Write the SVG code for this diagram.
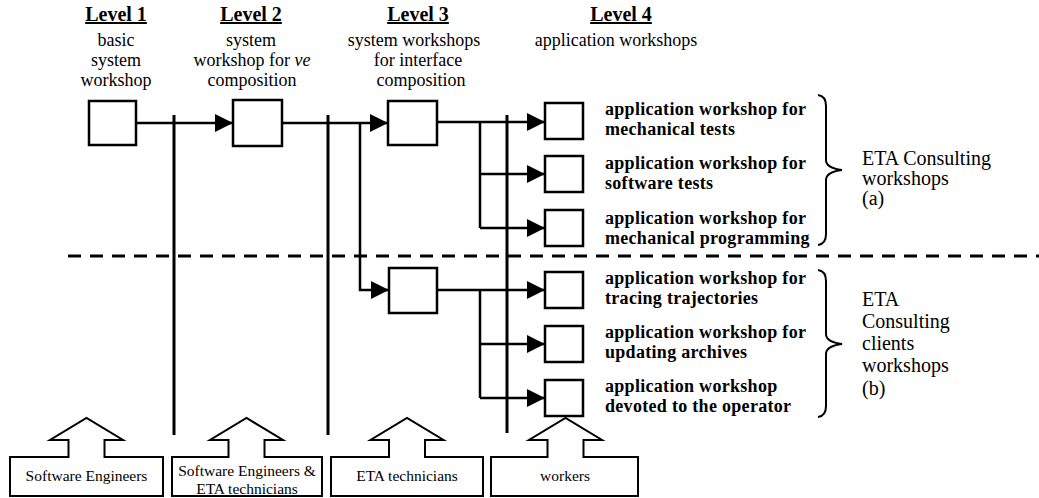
<svg xmlns="http://www.w3.org/2000/svg" width="1039" height="498" viewBox="0 0 1039 498">
<style>
  .t { font-family: "Liberation Serif", "Times New Roman", serif; fill: #000; }
  .hd { font-size: 20px; font-weight: bold; text-decoration: underline; text-anchor: middle; }
  .h { font-size: 18px; text-anchor: middle; }
  .b { font-size: 18px; font-weight: bold; letter-spacing: 0.3px; }
  .r { font-size: 20px; }
  .s { font-size: 15.5px; text-anchor: middle; }
  .box { fill: #fff; stroke: #000; stroke-width: 2.5; }
  .ln { fill: none; stroke: #000; stroke-width: 2.5; }
  .sep { fill: none; stroke: #000; stroke-width: 3; }
  .brace { fill: none; stroke: #000; stroke-width: 2; }
  .call { fill: #fff; stroke: #000; stroke-width: 2; stroke-linejoin: miter; }
</style>
<defs>
  <marker id="ah" viewBox="0 0 18 18" refX="18" refY="9" markerWidth="18" markerHeight="18" markerUnits="userSpaceOnUse" orient="auto">
    <path d="M0,0 L18,9 L0,18 Z" fill="#000"/>
  </marker>
</defs>
<rect width="1039" height="498" fill="#fff"/>

<!-- headers -->
<g id="headers" class="t">
  <text class="t hd" x="116" y="21">Level 1</text>
  <text class="t h" x="116" y="46">basic</text>
  <text class="t h" x="116" y="66">system</text>
  <text class="t h" x="116" y="86">workshop</text>

  <text class="t hd" x="251" y="21">Level 2</text>
  <text class="t h" x="251" y="46">system</text>
  <text class="t h" x="252" y="66">workshop for <tspan font-style="italic">ve</tspan></text>
  <text class="t h" x="252" y="86">composition</text>

  <text class="t hd" x="418" y="21">Level 3</text>
  <text class="t h" x="414" y="46">system workshops</text>
  <text class="t h" x="418" y="66">for interface</text>
  <text class="t h" x="421" y="86">composition</text>

  <text class="t hd" x="621" y="21">Level 4</text>
  <text class="t h" x="616" y="46">application workshops</text>
</g>

<!-- separators and dashed divider -->
<g id="separators">
  <path class="sep" d="M174,115 V435 M328,115 V435 M507,115 V433"/>
  <path d="M68,256 H1039" stroke="#000" stroke-width="3" stroke-dasharray="13 9" fill="none"/>
</g>

<!-- connectors -->
<g id="connectors">
  <path class="ln" d="M136,123 H233" marker-end="url(#ah)"/>
  <path class="ln" d="M282,123 H388" marker-end="url(#ah)"/>
  <path class="ln" d="M360,123 V290 H389" marker-end="url(#ah)"/>
  <path class="ln" d="M437,122 H545" marker-end="url(#ah)"/>
  <path class="ln" d="M480,122 V228"/>
  <path class="ln" d="M480,174 H545" marker-end="url(#ah)"/>
  <path class="ln" d="M480,228 H545" marker-end="url(#ah)"/>
  <path class="ln" d="M437,290 H545" marker-end="url(#ah)"/>
  <path class="ln" d="M480,290 V398"/>
  <path class="ln" d="M480,344 H545" marker-end="url(#ah)"/>
  <path class="ln" d="M480,398 H545" marker-end="url(#ah)"/>
</g>

<!-- system workshops -->
<g id="level1-box"><rect class="box" x="89" y="101" width="47" height="44"/></g>
<g id="level2-box"><rect class="box" x="233" y="100" width="49" height="46"/></g>
<g id="level3-box-a"><rect class="box" x="388" y="101" width="49" height="44"/></g>
<g id="level3-box-b"><rect class="box" x="389" y="268" width="48" height="45"/></g>

<!-- application workshops -->
<g id="app-mech-tests">
  <rect class="box" x="545" y="103" width="38" height="36"/>
  <text class="t b" x="605" y="115">application workshop for</text>
  <text class="t b" x="605" y="135">mechanical tests</text>
</g>
<g id="app-soft-tests">
  <rect class="box" x="545" y="156" width="38" height="36"/>
  <text class="t b" x="605" y="169">application workshop for</text>
  <text class="t b" x="605" y="189">software tests</text>
</g>
<g id="app-mech-prog">
  <rect class="box" x="545" y="210" width="38" height="36"/>
  <text class="t b" x="605" y="224">application workshop for</text>
  <text class="t b" x="605" y="244">mechanical programming</text>
</g>
<g id="app-tracing">
  <rect class="box" x="545" y="272" width="38" height="36"/>
  <text class="t b" x="605" y="284">application workshop for</text>
  <text class="t b" x="605" y="304">tracing trajectories</text>
</g>
<g id="app-archives">
  <rect class="box" x="545" y="326" width="38" height="36"/>
  <text class="t b" x="605" y="338">application workshop for</text>
  <text class="t b" x="605" y="358">updating archives</text>
</g>
<g id="app-operator">
  <rect class="box" x="545" y="380" width="38" height="36"/>
  <text class="t b" x="605" y="392">application workshop</text>
  <text class="t b" x="605" y="412">devoted to the operator</text>
</g>

<!-- braces and group labels -->
<g id="group-a">
  <path class="brace" d="M818,95 Q826,96 826,106 V160 Q826,168 842,170 Q826,172 826,180 V234 Q826,244 818,245"/>
  <text class="t r" x="862" y="165">ETA Consulting</text>
  <text class="t r" x="862" y="185">workshops</text>
  <text class="t r" x="862" y="205">(a)</text>
</g>
<g id="group-b">
  <path class="brace" d="M818,270 Q826,271 826,281 V334 Q826,342 842,344 Q826,346 826,354 V406 Q826,416 818,417"/>
  <text class="t r" x="862" y="306">ETA</text>
  <text class="t r" x="862" y="328">Consulting</text>
  <text class="t r" x="862" y="350">clients</text>
  <text class="t r" x="862" y="372">workshops</text>
  <text class="t r" x="862" y="395">(b)</text>
</g>

<!-- actors (up-arrow callouts) -->
<g id="actor-software-engineers">
  <path class="call" d="M10,457 H68.5 V440 H50 L86.5,418 L123,440 H104.5 V457 H163 V496 H10 Z"/>
  <text class="t s" x="86.5" y="481">Software Engineers</text>
</g>
<g id="actor-se-eta">
  <path class="call" d="M172,457 H228.5 V440 H210 L246.5,418 L283,440 H264.5 V457 H322 V496 H172 Z"/>
  <text class="t s" x="247" y="476">Software Engineers &amp;</text>
  <text class="t s" x="247" y="494">ETA technicians</text>
</g>
<g id="actor-eta-technicians">
  <path class="call" d="M331,457 H389 V440 H370.5 L407,418 L443.5,440 H425 V457 H483 V496 H331 Z"/>
  <text class="t s" x="407" y="481">ETA technicians</text>
</g>
<g id="actor-workers">
  <path class="call" d="M491,457 H547.5 V440 H529 L565.5,418 L602,440 H583.5 V457 H638 V496 H491 Z"/>
  <text class="t s" x="565" y="481">workers</text>
</g>
</svg>
